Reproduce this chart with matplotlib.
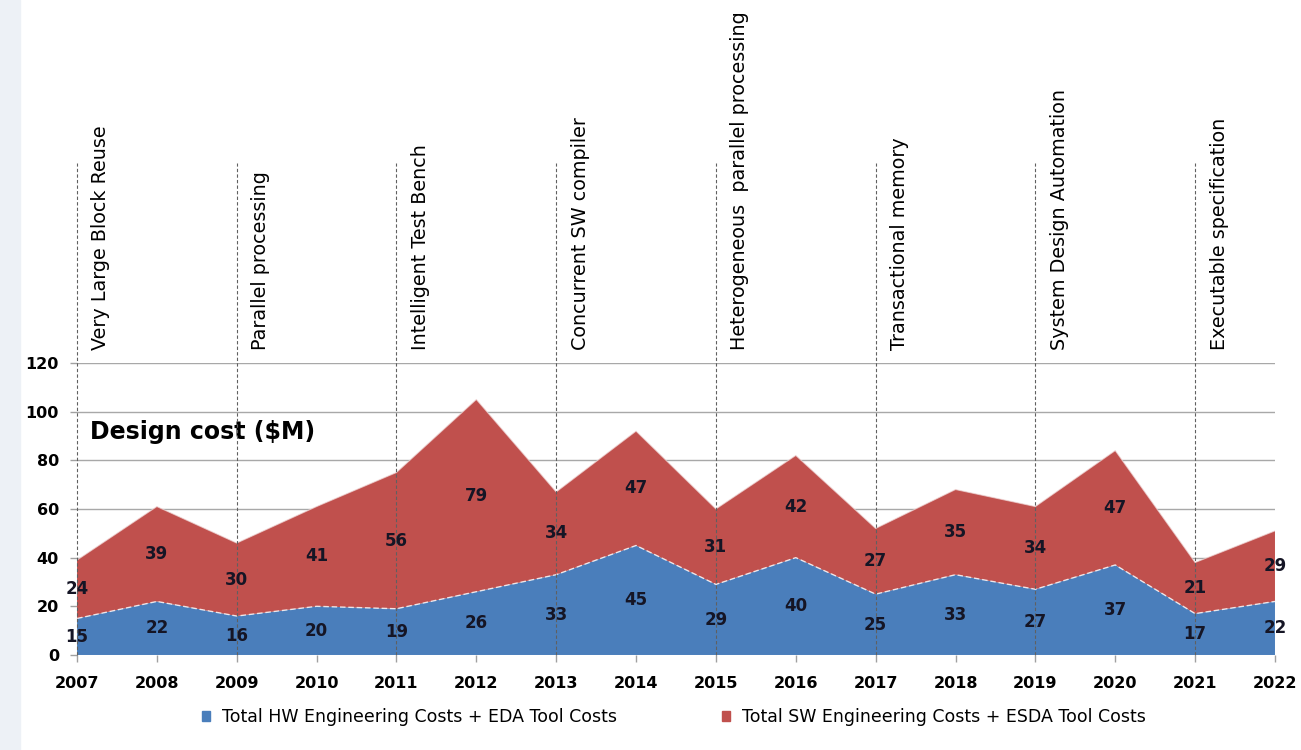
import matplotlib.pyplot as plt
from matplotlib.patches import Patch, Rectangle

# Design cost data ($M)
years = list(range(2007, 2023))
hw_costs = [15, 22, 16, 20, 19, 26, 33, 45, 29, 40, 25, 33, 27, 37, 17, 22]
sw_costs = [24, 39, 30, 41, 56, 79, 34, 47, 31, 42, 27, 35, 34, 47, 21, 29]

# Technology milestones (year, label)
milestone_years = [2007, 2009, 2011, 2013, 2015, 2017, 2019, 2021]
milestone_labels = ['Very Large Block Reuse', 'Parallel processing', 'Intelligent Test Bench',
                    'Concurrent SW compiler', 'Heterogeneous  parallel processing',
                    'Transactional memory', 'System Design Automation', 'Executable specification']

hw_label = 'Total HW Engineering Costs + EDA Tool Costs'
sw_label = 'Total SW Engineering Costs + ESDA Tool Costs'

blue = '#4A7EBB'
red = '#C0504D'

fig = plt.figure(figsize=(13.01, 7.5), dpi=100)
# faint slide background strip on the left edge
fig.patches.append(Rectangle((0, 0), 0.015, 1, transform=fig.transFigure,
                             color='#edf1f6', zorder=0))
ax = fig.add_axes([0.0592, 0.1267, 0.9208, 0.3893])

ax.stackplot(years, hw_costs, sw_costs, colors=[blue, red], zorder=2)
tops = [h + s for h, s in zip(hw_costs, sw_costs)]
ax.plot(years, hw_costs, color='white', lw=1, ls=(0, (4, 2)), alpha=0.8, zorder=3)
ax.plot(years, tops, color='#f0d8d8', lw=0.8, alpha=0.7, zorder=3)

ax.set_xlim(2007, 2022)
ax.set_ylim(0, 120)
ax.set_yticks(range(0, 121, 20))
ax.set_xticks(years)
ax.grid(axis='y', color='#a8a8a8', lw=1, zorder=1)
for s in ax.spines.values():
    s.set_visible(False)
ax.tick_params(axis='both', colors='#a0a0a0', length=5, width=1, labelcolor='black')
ax.tick_params(axis='x', pad=10)
ax.tick_params(axis='y', pad=8)
for lab in ax.get_xticklabels() + ax.get_yticklabels():
    lab.set_fontweight('bold')
    lab.set_fontsize(11.5)

# data labels
for x, h, s in zip(years, hw_costs, sw_costs):
    ax.text(x, h / 2, str(h), ha='center', va='center', fontsize=12, fontweight='bold',
            color='#151525', zorder=5, clip_on=False)
    ax.text(x, h + s / 2, str(s), ha='center', va='center', fontsize=12, fontweight='bold',
            color='#151525', zorder=5, clip_on=False)

# milestone lines and labels
for x, lab in zip(milestone_years, milestone_labels):
    ax.plot([x, x], [0, 202], color='#606060', lw=0.8, ls=(0, (3, 2)), zorder=4, clip_on=False)
    ax.text(x + 0.3, 125.4, lab, rotation=90, ha='center', va='bottom', fontsize=13.8,
            color='black', clip_on=False)

ax.text(2007.16, 91.6, 'Design cost ($M)', fontsize=17, fontweight='bold', ha='left', va='center')

handles = [Patch(color=blue, label=hw_label), Patch(color=red, label=sw_label)]
fig.legend(handles=handles, loc='center', bbox_to_anchor=(674 / 1301, 1 - 717 / 750), ncol=2,
           frameon=False, fontsize=12.5, handlelength=0.5, handleheight=0.5,
           handletextpad=0.7, columnspacing=6.0)

fig.savefig('out.png', dpi=100)
